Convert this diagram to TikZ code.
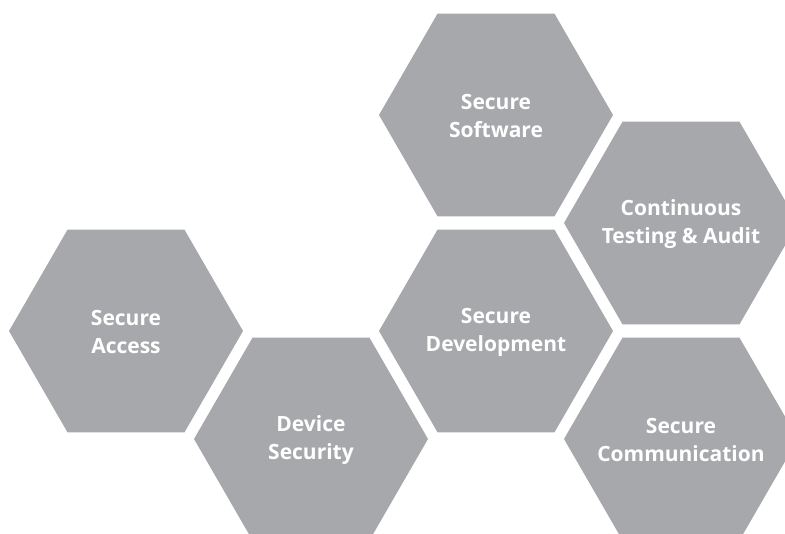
\documentclass[tikz,border=0pt]{standalone}
\usepackage{fontspec}
\setmainfont{Open Sans}
\usetikzlibrary{shapes.geometric}
\definecolor{hexgray}{RGB}{167,168,171}
\begin{document}
\begin{tikzpicture}[x=1pt,y=-1pt,
  hexa/.style={regular polygon, regular polygon sides=6, minimum size=234pt,
    inner sep=0pt, outer sep=0pt, fill=hexgray},
  hexlabel/.style={text=white, inner sep=0pt,
    font=\fontsize{21}{28}\selectfont\bfseries, align=center}]
\useasboundingbox (0,0) rectangle (785,534);
\clip (0,0) rectangle (785,534);
\node[hexa] (ss) at (496,115) {};
\node[hexa] (ct) at (681,223) {};
\node[hexa] (sd) at (496,331) {};
\node[hexa] (sa) at (126,331) {};
\node[hexa] (ds) at (311,439) {};
\node[hexa] (sc) at (681,439) {};
\node[hexlabel] (ssl) at ([yshift=-1pt]ss.center) {Secure\\Software};
\node[hexlabel] (ctl) at ([yshift=-1pt]ct.center) {Continuous\\Testing \& Audit};
\node[hexlabel] (sdl) at ([yshift=-1pt]sd.center) {Secure\\Development};
\node[hexlabel] (sal) at ([yshift=-1pt]sa.center) {Secure\\Access};
\node[hexlabel] (dsl) at ([yshift=-1pt]ds.center) {Device\\Security};
\node[hexlabel] (scl) at ([yshift=-1pt]sc.center) {Secure\\Communication};
\end{tikzpicture}
\end{document}
